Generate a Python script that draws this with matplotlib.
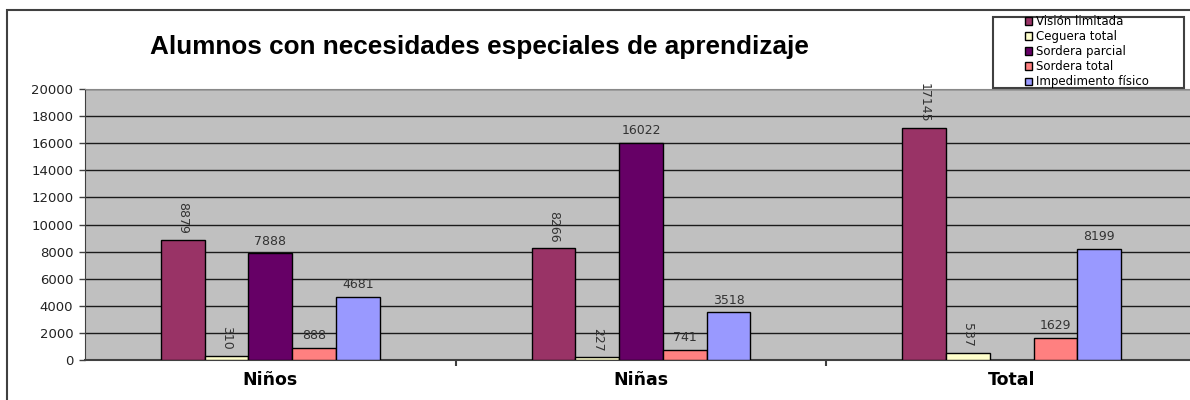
import matplotlib
matplotlib.use("Agg")
import matplotlib.pyplot as plt
from matplotlib.patches import Rectangle
import numpy as np

categories = ["Niños", "Niñas", "Total"]
series_names = ["Visión limitada", "Ceguera total", "Sordera parcial",
                "Sordera total", "Impedimento físico"]
vision_limitada = [8879, 8266, 17145]
ceguera_total = [310, 227, 537]
sordera_parcial = [7888, 16022, np.nan]
sordera_total = [888, 741, 1629]
impedimento_fisico = [4681, 3518, 8199]
yticks = [0, 2000, 4000, 6000, 8000, 10000, 12000, 14000, 16000, 18000, 20000]

series = [vision_limitada, ceguera_total, sordera_parcial, sordera_total, impedimento_fisico]
colors = ["#993366", "#FFFFCC", "#660066", "#FF8080", "#9999FF"]
rotated = [True, True, False, False, False]

W, H = 1190, 400
fig = plt.figure(figsize=(W / 100, H / 100), dpi=100)
fig.patch.set_facecolor("white")

# outer chart border (runs off the right/bottom edge)
fig.patches.append(Rectangle((7 / W, -0.05), 1.1, 1 - 10 / H + 0.05,
                             transform=fig.transFigure, fill=False,
                             edgecolor="#404040", lw=1.5, zorder=0))

ax = fig.add_axes([85 / W, 40 / H, 1112 / W, 271 / H])
ax.set_facecolor("#C0C0C0")
ax.set_xlim(-0.5, 2.5)
ax.set_ylim(0, 20000)
ax.set_yticks(yticks)
ax.yaxis.grid(True, color="#1a1a1a", lw=1)
ax.set_axisbelow(True)

x = np.arange(len(categories))
w = 0.118
for i, (vals, col, name) in enumerate(zip(series, colors, series_names)):
    bars = ax.bar(x + (i - 2) * w, vals, w, color=col, edgecolor="black",
                  lw=1, label=name, zorder=3)
    labels = ["" if np.isnan(v) else str(int(v)) for v in vals]
    if rotated[i]:
        ax.bar_label(bars, labels, padding=4, rotation=270, fontsize=9,
                     color="#333333")
    else:
        ax.bar_label(bars, labels, padding=4, fontsize=9, color="#333333")

ax.spines["right"].set_visible(False)
ax.spines["top"].set_color("#888888")
ax.spines["left"].set_color("#404040")
ax.spines["bottom"].set_color("#404040")
ax.spines["bottom"].set_linewidth(1.5)

ax.tick_params(axis="y", length=4.5, width=1, color="#404040", labelsize=9.5,
               labelcolor="#222222", pad=4)
ax.set_xticks(x)
ax.set_xticklabels(categories, fontsize=12.5, fontweight="bold")
ax.tick_params(axis="x", which="major", length=0, pad=8)
ax.set_xticks([0.5, 1.5], minor=True)
ax.tick_params(axis="x", which="minor", length=4, width=1.5, color="#404040")

fig.text(479 / W, 1 - 47 / H, "Alumnos con necesidades especiales de aprendizaje",
         ha="center", va="center", fontsize=18.8, family="Liberation Sans",
         fontweight="bold")

# legend box
fig.patches.append(Rectangle((993 / W, 1 - 88 / H), 191 / W, 71 / H,
                             transform=fig.transFigure, facecolor="white",
                             edgecolor="#404040", lw=1.5, zorder=1))
fig.legend(loc="upper left", bbox_to_anchor=(1025 / W, 1 - 15 / H),
           frameon=False, fontsize=8.5, handlelength=0.6, handleheight=0.6,
           handletextpad=0.3, labelspacing=0.18, borderpad=0, borderaxespad=0)

fig.savefig("out.png", dpi=100)
